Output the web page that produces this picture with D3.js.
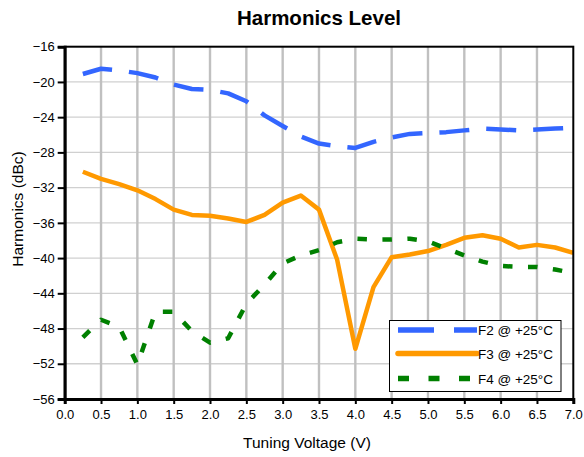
<!DOCTYPE html>
<html>
<head>
<meta charset="utf-8">
<script src="https://cdn.jsdelivr.net/npm/d3@7"></script>
<style>
  html, body { margin: 0; padding: 0; background: #fff; }
  svg { display: block; font-family: "Liberation Sans", Arial, sans-serif; }
</style>
</head>
<body>
<svg id="chart" width="584" height="457"></svg>
<script>
// ---- data ----
const voltages = [0.25,0.5,0.75,1.0,1.25,1.5,1.75,2.0,2.25,2.5,2.75,3.0,3.25,3.5,3.75,4.0,4.25,4.5,4.75,5.0,5.25,5.5,5.75,6.0,6.25,6.5,6.75,7.0];
const f2 = [-19.1,-18.5,-18.7,-19.0,-19.5,-20.3,-20.8,-20.9,-21.3,-22.2,-23.8,-25.0,-26.2,-27.0,-27.3,-27.5,-26.8,-26.3,-25.9,-25.8,-25.7,-25.5,-25.3,-25.4,-25.5,-25.4,-25.3,-25.2];
const f3 = [-30.2,-31.0,-31.6,-32.3,-33.3,-34.5,-35.1,-35.2,-35.5,-35.9,-35.1,-33.7,-32.9,-34.5,-40.2,-50.3,-43.3,-39.9,-39.6,-39.2,-38.5,-37.7,-37.4,-37.8,-38.8,-38.5,-38.8,-39.4];
const f4 = [-49.0,-47.0,-47.8,-52.1,-46.1,-46.1,-48.3,-49.6,-49.1,-45.2,-43.0,-40.6,-39.7,-39.1,-38.2,-37.8,-37.9,-37.9,-37.8,-38.1,-38.9,-39.7,-40.4,-40.9,-41.0,-41.0,-41.3,-41.7];
const seriesNames = ["F2 @ +25°C", "F3 @ +25°C", "F4 @ +25°C"];
const xTicks = [0,0.5,1,1.5,2,2.5,3,3.5,4,4.5,5,5.5,6,6.5,7];
const yTicks = [-16,-20,-24,-28,-32,-36,-40,-44,-48,-52,-56];
const titleText = "Harmonics Level";
const xTitle = "Tuning Voltage (V)";
const yTitle = "Harmonics (dBc)";

// ---- layout ----
const L = 64.7, R = 573.3, T = 46.7, B = 399;
const svg = d3.select("#chart");
const x = d3.scaleLinear().domain([0, 7]).range([L, R]);
const y = d3.scaleLinear().domain([-56, -16]).range([B, T]);

const styles = [
  { color: "#3366FF", dash: "30,17", width: 4.5, legendDash: "36,20" },
  { color: "#FF9900", dash: null, width: 4.5, legendDash: null },
  { color: "#008000", dash: "9.5,15.5", width: 4.5, legendDash: "11,19.5" }
];

// gridlines
const grid = svg.append("g");
grid.selectAll("line.h").data(yTicks.slice(1, -1)).enter().append("line")
  .attr("x1", L).attr("x2", R).attr("y1", d => y(d)).attr("y2", d => y(d))
  .attr("stroke", "#d0d0d0").attr("stroke-width", 1.3);
grid.selectAll("line.v").data(xTicks.slice(1, -1)).enter().append("line")
  .attr("y1", T).attr("y2", B).attr("x1", d => x(d)).attr("x2", d => x(d))
  .attr("stroke", "#c0c0c0").attr("stroke-width", 2.4);

// series
const allSeries = [f2, f3, f4];
const line = d3.line().x((d, i) => x(voltages[i])).y(d => y(d));
allSeries.forEach((s, k) => {
  const p = svg.append("path").datum(s)
    .attr("d", line)
    .attr("fill", "none")
    .attr("stroke", styles[k].color)
    .attr("stroke-width", styles[k].width)
    .attr("stroke-linejoin", "round")
    .attr("stroke-linecap", "butt");
  if (styles[k].dash) p.attr("stroke-dasharray", styles[k].dash);
});

// frame
svg.append("rect").attr("x", L).attr("y", T).attr("width", R - L).attr("height", B - T)
  .attr("fill", "none").attr("stroke", "#000").attr("stroke-width", 2);

// axes
const xAxis = d3.axisBottom(x).tickValues(xTicks).tickFormat(d3.format(".1f")).tickSize(5).tickPadding(6);
const gx = svg.append("g").attr("transform", `translate(0,${B})`).call(xAxis);
gx.select(".domain").attr("stroke", "#000").attr("stroke-width", 3);
gx.selectAll(".tick line").attr("stroke", "#000").attr("stroke-width", 2);
gx.selectAll("text").attr("font-size", 13).attr("font-family", "Liberation Sans, Arial, sans-serif").attr("fill", "#000");

const yAxis = d3.axisLeft(y).tickValues(yTicks).tickFormat(d3.format("d")).tickSize(7).tickPadding(3);
const gy = svg.append("g").attr("transform", `translate(${L},0)`).call(yAxis);
gy.select(".domain").attr("stroke", "#000").attr("stroke-width", 3);
gy.selectAll(".tick line").attr("stroke", "#000").attr("stroke-width", 2);
gy.selectAll("text").attr("font-size", 13).attr("font-family", "Liberation Sans, Arial, sans-serif").attr("fill", "#000");

// titles
svg.append("text").attr("x", 319).attr("y", 25).attr("text-anchor", "middle")
  .attr("font-size", 20.5).attr("font-weight", "bold").text(titleText);
svg.append("text").attr("x", 307).attr("y", 448).attr("text-anchor", "middle")
  .attr("font-size", 15.5).text(xTitle);
svg.append("text").attr("transform", "translate(23,209) rotate(-90)").attr("text-anchor", "middle")
  .attr("font-size", 15.5).text(yTitle);

// legend
const lg = svg.append("g");
lg.append("rect").attr("x", 389.5).attr("y", 320.5).attr("width", 171.5).attr("height", 71)
  .attr("fill", "#fff").attr("stroke", "#000").attr("stroke-width", 1);
const rowY = [330, 353.5, 378.5];
seriesNames.forEach((name, k) => {
  const ln = lg.append("line").attr("x1", 398).attr("x2", 477).attr("y1", rowY[k]).attr("y2", rowY[k])
    .attr("stroke", styles[k].color).attr("stroke-width", 5.5)
    .attr("stroke-linecap", k === 1 ? "round" : "butt");
  if (styles[k].legendDash) ln.attr("stroke-dasharray", styles[k].legendDash);
  lg.append("text").attr("x", 478).attr("y", rowY[k] + 5).attr("font-size", 13.5).text(name);
});
</script>
</body>
</html>
